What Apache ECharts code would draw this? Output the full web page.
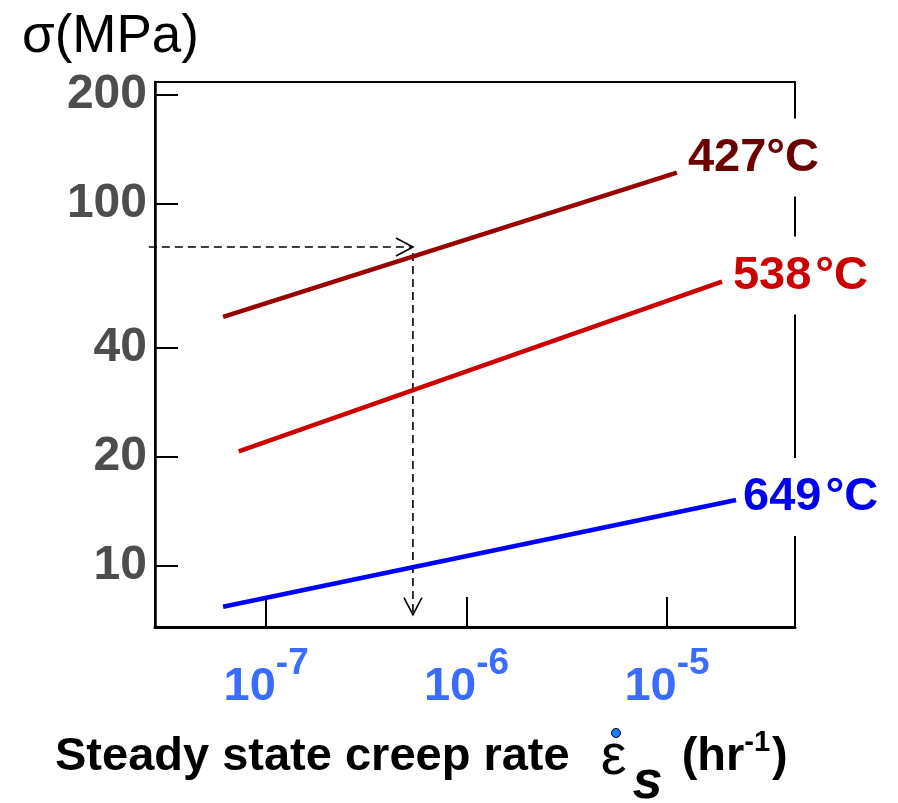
<!DOCTYPE html>
<html>
<head>
<meta charset="utf-8">
<script src="https://cdn.jsdelivr.net/npm/echarts@6/dist/echarts.min.js"></script>
<style>
  html, body { margin: 0; padding: 0; background: #fff; }
  #chart { width: 898px; height: 803px; }
</style>
</head>
<body>
<div id="chart"></div>
<script>
// creep rate (1/hr) vs stress (MPa), both
const rateTicks = [1e-7, 1e-6, 1e-5];
const stressTicks = [10, 20, 40, 100, 200];
const rateRange = [2.79e-8, 4.35e-5];
const stressRange = [6.78, 217];

const rate427 = [6.1e-8, 1.12e-5];
const stress427 = [48.7, 122];
const rate538 = [7.3e-8, 1.88e-5];
const stress538 = [20.7, 61.0];
const rate649 = [6.1e-8, 2.21e-5];
const stress649 = [7.71, 15.2];

// dashed read-off guide
const guideStartRate = 2.6e-8;
const guideRate = 5.4e-7;
const guideStress = 76;
const guideEndStress = 7.33;

const FONT = 'Liberation Sans, Arial, sans-serif';
const lg = Math.log10;

function pts(xs, ys) {
  return xs.map((x, i) => [lg(x), lg(ys[i])]);
}

function tempLine(name, xs, ys, lineColor, textColor, offset) {
  return {
    name: name,
    type: 'line',
    data: pts(xs, ys),
    showSymbol: false,
    z: 3,
    lineStyle: { color: lineColor, width: 4.5 },
    endLabel: {
      show: true,
      formatter: name,
      distance: 0,
      offset: offset,
      color: textColor,
      fontFamily: FONT,
      fontWeight: 'bold',
      fontSize: 47,
      lineHeight: 46,
      backgroundColor: '#fff',
      padding: [16, 2, 16, 0]
    }
  };
}

const chart = echarts.init(document.getElementById('chart'));

const option = {
  animation: false,
  title: {
    text: 'σ(MPa)',
    left: 17,
    top: 6,
    textStyle: { fontFamily: FONT, fontSize: 53, fontWeight: 'normal', color: '#000' }
  },
  grid: {
    left: 155,
    right: 103,
    top: 82,
    bottom: 176,
    show: true,
    borderColor: '#000',
    borderWidth: 2
  },
  xAxis: {
    type: 'value',
    min: lg(rateRange[0]),
    max: lg(rateRange[1]),
    splitLine: { show: false },
    axisLine: { lineStyle: { color: '#000', width: 3 } },
    axisTick: {
      inside: true,
      length: 30,
      customValues: rateTicks.map(lg),
      lineStyle: { color: '#000', width: 2 }
    },
    axisLabel: {
      customValues: rateTicks.map(lg),
      margin: 18,
      formatter: v => '{b|10}{s|' + Math.round(v) + '}',
      rich: {
        b: { fontFamily: FONT, fontWeight: 'bold', fontSize: 47, color: '#3a6cff' },
        s: { fontFamily: FONT, fontWeight: 'bold', fontSize: 37, color: '#3a6cff', padding: [0, 0, 48, 0] }
      }
    }
  },
  yAxis: {
    type: 'value',
    min: lg(stressRange[0]),
    max: lg(stressRange[1]),
    splitLine: { show: false },
    axisLine: { show: true, lineStyle: { color: '#000', width: 2.5 } },
    axisTick: {
      inside: true,
      length: 23,
      customValues: stressTicks.map(lg),
      lineStyle: { color: '#000', width: 2 }
    },
    axisLabel: {
      customValues: stressTicks.map(lg),
      margin: 8,
      formatter: v => String(Math.round(Math.pow(10, v))),
      fontFamily: FONT,
      fontWeight: 'bold',
      fontSize: 48,
      color: '#4d4d4d'
    }
  },
  graphic: [
    {
      type: 'text',
      left: 55,
      top: 728,
      style: {
        text: '{t|Steady state creep rate }{e|ε}{s|s}{t| (hr}{sup|-1}{t|)}',
        rich: {
          t: { fontFamily: FONT, fontWeight: 'bold', fontSize: 47, fill: '#000' },
          e: { fontFamily: FONT, fontSize: 58, fill: '#000', padding: [0, 2, 0, 18] },
          s: { fontFamily: FONT, fontWeight: 'bold', fontStyle: 'italic', fontSize: 54, fill: '#000', padding: [52, 6, 0, 4] },
          sup: { fontFamily: FONT, fontWeight: 'bold', fontSize: 29, fill: '#000', padding: [0, 2, 30, 0] }
        }
      }
    },
    {
      type: 'circle',
      left: 611,
      top: 728,
      shape: { r: 4.5 },
      style: { fill: '#1a7cff', stroke: '#000', lineWidth: 1 }
    }
  ],
  series: [
    {
      type: 'custom',
      z: 1,
      clip: false,
      silent: true,
      data: [[lg(guideRate), lg(guideStress)]],
      renderItem: function (params, api) {
        const p0 = api.coord([lg(guideStartRate), lg(guideStress)]);
        const p1 = api.coord([lg(guideRate), lg(guideStress)]);
        const p2 = api.coord([lg(guideRate), lg(guideEndStress)]);
        const dash = { stroke: '#000', lineWidth: 1.6, lineDash: [8, 5], fill: null };
        const solid = { stroke: '#000', lineWidth: 1.6, fill: null };
        return {
          type: 'group',
          children: [
            { type: 'line', shape: { x1: p0[0], y1: p0[1], x2: p1[0] - 2, y2: p1[1] }, style: dash },
            { type: 'polyline', shape: { points: [[p1[0] - 17, p1[1] - 9], [p1[0], p1[1]], [p1[0] - 17, p1[1] + 9]] }, style: solid },
            { type: 'line', shape: { x1: p2[0], y1: p1[1] + 6, x2: p2[0], y2: p2[1] - 2 }, style: dash },
            { type: 'polyline', shape: { points: [[p2[0] - 9, p2[1] - 17], [p2[0], p2[1]], [p2[0] + 9, p2[1] - 17]] }, style: solid }
          ]
        };
      }
    },
    tempLine('427°C', rate427, stress427, '#990000', '#6b0000', [11, -15]),
    tempLine('538\u200A°C', rate538, stress538, '#cc0000', '#cc0000', [11, -6]),
    tempLine('649\u200A°C', rate649, stress649, '#0000ff', '#0000ee', [7, -3])
  ]
};

chart.setOption(option);
</script>
</body>
</html>
